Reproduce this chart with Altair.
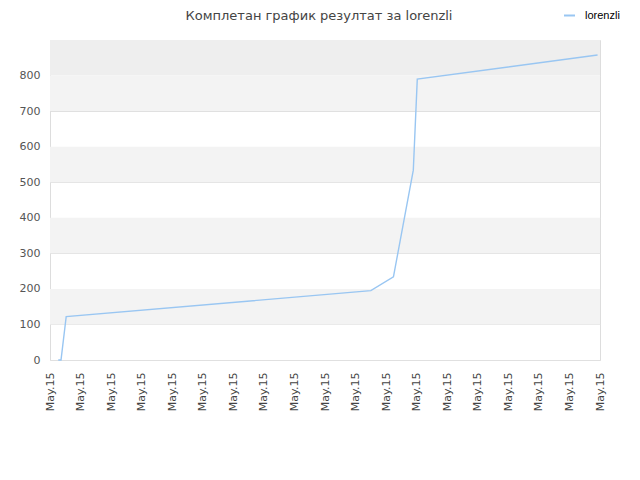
import altair as alt
import pandas as pd

# Data
x_idx = [0.27, 0.36, 0.53, 10.50, 11.24, 11.89, 12.02, 17.92]
scores = [0, 0, 122, 195, 234, 534, 790, 858]
series_name = "lorenzli"
tick_positions = list(range(19))
tick_label = "May.15"
y_ticks = [0, 100, 200, 300, 400, 500, 600, 700, 800]
band_lo = [100, 300, 500, 700]
band_hi = [200, 400, 600, 800]
top_band_lo = [800]
top_band_hi = [900]

line_df = pd.DataFrame({"x": x_idx, "y": scores, "series": [series_name] * len(x_idx)})
band_df = pd.DataFrame({"lo": band_lo, "hi": band_hi})
top_df = pd.DataFrame({"lo": top_band_lo, "hi": top_band_hi})

W, H = 550, 320

yscale = alt.Scale(domain=[0, 900], nice=False, zero=True)
xscale = alt.Scale(domain=[0, 18], nice=False, zero=False)
yaxis = alt.Axis(values=y_ticks, labelFontSize=11, labelColor="#555555",
                 labelFont="DejaVu Sans", ticks=False, domain=False,
                 grid=True, gridColor="#e0e0e0", labelPadding=10)

bands = alt.Chart(band_df).mark_rect(color="#f3f3f3").encode(
    x=alt.value(0), x2=alt.value(W),
    y=alt.Y("lo:Q", scale=yscale, axis=yaxis, title=None), y2="hi:Q",
)
top_band = alt.Chart(top_df).mark_rect(color="#eeeeee").encode(
    x=alt.value(0), x2=alt.value(W),
    y=alt.Y("lo:Q", scale=yscale, axis=yaxis, title=None), y2="hi:Q",
)

line = alt.Chart(line_df).mark_line(strokeWidth=1.4, interpolate="linear").encode(
    x=alt.X("x:Q", scale=xscale, title=None,
            axis=alt.Axis(values=tick_positions, labelExpr=f"'{tick_label}'",
                          labelAngle=270, labelFontSize=11, labelColor="#444444",
                          labelFont="DejaVu Sans", ticks=False, domain=False,
                          grid=False, labelPadding=12, labelOverlap=False,
                          labelFlush=False)),
    y=alt.Y("y:Q", scale=yscale, title=None, axis=yaxis),
    color=alt.Color("series:N", scale=alt.Scale(range=["#99c6f2"]),
                    legend=alt.Legend(title=None, orient="none", legendX=513, legendY=-31,
                                      symbolType="stroke", symbolSize=121,
                                      symbolStrokeWidth=2, labelFont="Liberation Sans",
                                      labelFontSize=11, labelColor="#000000",
                                      labelOffset=9, padding=0)),
)

chart = alt.layer(top_band, bands, line).properties(
    width=W, height=H,
    title=alt.TitleParams("Комплетан график резултат за lorenzli", font="DejaVu Sans",
                          fontSize=13, fontWeight="normal", color="#444444",
                          anchor="middle", offset=0, dx=-6, dy=14),
    padding={"left": 42, "top": 32, "right": 32, "bottom": 112},
    autosize=alt.AutoSizeParams(type="none"),
).configure_view(stroke="#d6d6d6", strokeWidth=1).configure(background="white")

chart.save("out.html", embed_options={"renderer": "svg", "actions": False})
